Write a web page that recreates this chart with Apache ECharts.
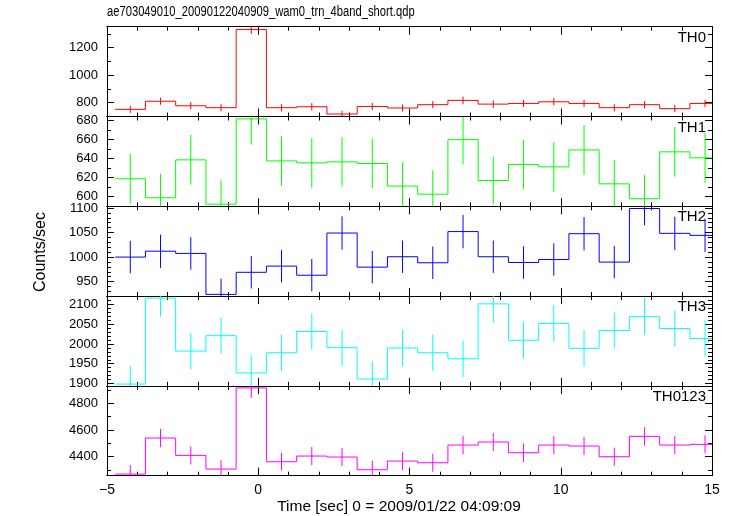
<!DOCTYPE html>
<html>
<head>
<meta charset="utf-8">
<script src="https://cdn.jsdelivr.net/npm/echarts@6/dist/echarts.min.js"></script>
<style>
html,body{margin:0;padding:0;background:#fff;}
#chart{width:733px;height:516px;}
</style>
</head>
<body>
<div id="chart"></div>
<script>
// ---- data ----
const titleText = 'ae703049010_20090122040909_wam0_trn_4band_short.qdp';
const xLabel = 'Time [sec] 0 = 2009/01/22 04:09:09';
const yLabel = 'Counts/sec';
const panelNames = ['TH0', 'TH1', 'TH2', 'TH3', 'TH0123'];
const panelColors = ['#ff0000', '#00ff00', '#0000ff', '#00ffff', '#ff00ff'];
const binHalfWidth = 0.5;
const times = [-4.23, -3.23, -2.23, -1.23, -0.23, 0.77, 1.77, 2.77, 3.77, 4.77,
               5.77, 6.77, 7.77, 8.77, 9.77, 10.77, 11.77, 12.77, 13.77, 14.77];
const th0 = [752, 811, 778, 764, 1333, 764, 771, 718, 773, 762, 786, 817, 790, 795, 807, 795, 764, 786, 757, 795];
const th0Err = [26, 26, 26, 26, 33, 26, 26, 25, 26, 26, 26, 27, 26, 26, 26, 26, 26, 26, 26, 26];
const th1 = [618.8, 598.9, 638.6, 592.2, 681.5, 637.5, 635.5, 636.5, 634.8, 611.2, 602.7, 659.8, 617, 633.7, 631.3, 649, 613.5, 597.9, 647, 640.7];
const th1Err = [26, 25, 26, 25, 27, 26, 26, 26, 26, 25, 25, 26, 25, 26, 26, 26, 25, 25, 26, 26];
const th2 = [1000, 1012, 1007.5, 924, 969, 981.6, 963, 1049, 979.5, 1000.7, 988.4, 1052, 1000.7, 989, 995, 1047.7, 989.8, 1099, 1048.4, 1044.3];
const th2Err = [33, 34, 33, 32, 33, 33, 33, 34, 33, 33, 33, 34, 33, 33, 33, 34, 33, 34, 34, 34];
const th3 = [1898.6, 2115.9, 1982, 2021, 1926.7, 1977.8, 2031.5, 1990.6, 1911.4, 1989.8, 1977.8, 1962.5, 2101.4, 2009.4, 2052, 1989, 2034, 2069, 2039, 2013.6];
const th3Err = [45, 47, 46, 46, 45, 46, 46, 46, 45, 46, 46, 46, 47, 46, 46, 46, 46, 47, 46, 46];
const th0123 = [4270, 4540, 4410, 4307.5, 4915, 4362.5, 4405, 4397.5, 4302.5, 4367.5, 4355, 4487.5, 4510, 4430, 4487.5, 4480, 4400, 4552.5, 4487.5, 4492.5];
const th0123Err = [67, 69, 68, 67, 75, 67, 68, 68, 67, 67, 67, 68, 68, 68, 68, 68, 68, 69, 68, 68];
const seriesValues = [th0, th1, th2, th3, th0123];
const seriesErrors = [th0Err, th1Err, th2Err, th3Err, th0123Err];
// axis ranges and ticks
const xMin = -5, xMax = 15;
const xMajorTicks = [-5, 0, 5, 10, 15];
const xMinorTicks = [-5,-4,-3,-2,-1,0,1,2,3,4,5,6,7,8,9,10,11,12,13,14,15];
const yRanges = [[700, 1353], [590, 684], [920.5, 1103.5], [1894, 2121], [4258, 4930]];
const yMajorTicks = [[800, 1000, 1200], [600, 620, 640, 660, 680], [950, 1000, 1050, 1100], [1900, 1950, 2000, 2050, 2100], [4400, 4600, 4800]];
const yMinorTicks = [
  [700, 800, 900, 1000, 1100, 1200, 1300],
  [590, 600, 610, 620, 630, 640, 650, 660, 670, 680],
  [930, 940, 950, 960, 970, 980, 990, 1000, 1010, 1020, 1030, 1040, 1050, 1060, 1070, 1080, 1090, 1100],
  [1900, 1910, 1920, 1930, 1940, 1950, 1960, 1970, 1980, 1990, 2000, 2010, 2020, 2030, 2040, 2050, 2060, 2070, 2080, 2090, 2100, 2110, 2120],
  [4300, 4400, 4500, 4600, 4700, 4800, 4900]
];

// ---- layout ----
const FONT = '"Liberation Sans", Helvetica, Arial, sans-serif';
const plotLeft = 107, plotRight = 712;
const panelTop = 26.7, panelH = 89.8;

const chart = echarts.init(document.getElementById('chart'), null, {renderer: 'canvas'});

const grids = [], xAxes = [], yAxes = [], series = [], graphics = [];
function fmtNum(v) { return v < 0 ? '\u2212' + Math.abs(v) : String(v); }

for (let i = 0; i < 5; i++) {
  grids.push({left: plotLeft, width: plotRight - plotLeft, top: panelTop + i * panelH, height: panelH});
  const isBottom = i === 4;
  const xa = (pos, vals, len, lab) => ({
    gridIndex: i, type: 'value', min: xMin, max: xMax, position: pos,
    axisLine: {show: true, onZero: false, lineStyle: {color: '#000', width: 1}},
    axisTick: {show: true, inside: true, length: len, customValues: vals, lineStyle: {color: '#000', width: 1}},
    axisLabel: {show: lab, customValues: vals, formatter: fmtNum, color: '#000', fontFamily: FONT, fontSize: 14, margin: 7},
    splitLine: {show: false}
  });
  const xStart = xAxes.length;
  xAxes.push(xa('bottom', xMajorTicks, 8, isBottom));
  xAxes.push(xa('bottom', xMinorTicks, 4, false));
  xAxes.push(xa('top', xMajorTicks, 8, false));
  xAxes.push(xa('top', xMinorTicks, 4, false));
  const [ymin, ymax] = yRanges[i];
  const ya = (pos, vals, len, lab) => ({
    gridIndex: i, type: 'value', min: ymin, max: ymax, position: pos,
    axisLine: {show: true, onZero: false, lineStyle: {color: '#000', width: 1}},
    axisTick: {show: true, inside: true, length: len, customValues: vals, lineStyle: {color: '#000', width: 1}},
    axisLabel: {show: lab, customValues: vals, formatter: fmtNum, color: '#000', fontFamily: FONT, fontSize: 13, margin: 9},
    splitLine: {show: false}
  });
  const yStart = yAxes.length;
  yAxes.push(ya('left', yMajorTicks[i], 7, true));
  yAxes.push(ya('left', yMinorTicks[i], 4, false));
  yAxes.push(ya('right', yMajorTicks[i], 7, false));
  yAxes.push(ya('right', yMinorTicks[i], 4, false));

  const vals = seriesValues[i], errs = seriesErrors[i];
  const data = times.map((t, k) => [t, vals[k], errs[k], k > 0 ? vals[k - 1] : NaN]);
  const color = panelColors[i];
  series.push({
    type: 'custom', xAxisIndex: xStart, yAxisIndex: yStart, clip: true, silent: true,
    data: data,
    renderItem: function (params, api) {
      const t = api.value(0), v = api.value(1), e = api.value(2), p = api.value(3);
      const L = api.coord([t - binHalfWidth, v]);
      const R = api.coord([t + binHalfWidth, v]);
      const T = api.coord([t, v + e]);
      const B = api.coord([t, v - e]);
      const style = {stroke: color, lineWidth: 1, fill: null};
      const children = [
        {type: 'line', shape: {x1: L[0], y1: L[1], x2: R[0], y2: R[1]}, style: style},
        {type: 'line', shape: {x1: T[0], y1: T[1], x2: B[0], y2: B[1]}, style: style}
      ];
      if (!isNaN(p)) {
        const P = api.coord([t - binHalfWidth, p]);
        children.push({type: 'line', shape: {x1: P[0], y1: P[1], x2: L[0], y2: L[1]}, style: style});
      }
      return {type: 'group', children: children};
    }
  });

  graphics.push({
    type: 'text', x: 706, y: panelTop + i * panelH + 11,
    style: {text: panelNames[i], font: '15px ' + FONT, fill: '#000', textAlign: 'right', textVerticalAlign: 'middle'}
  });
}

graphics.push({type: 'text', x: 107, y: 12, scaleX: 0.8,
  style: {text: titleText, font: '14px ' + FONT, fill: '#000', textAlign: 'left', textVerticalAlign: 'middle'}});
graphics.push({type: 'text', x: 399, y: 507,
  style: {text: xLabel, font: '15.5px ' + FONT, fill: '#000', textAlign: 'center', textVerticalAlign: 'middle'}});
graphics.push({
  type: 'text', x: 41, y: 252, rotation: Math.PI / 2,
  style: {text: yLabel, font: '16px ' + FONT, fill: '#000', textAlign: 'center', textVerticalAlign: 'middle'}
});

chart.setOption({
  animation: false,
  backgroundColor: '#fff',
  grid: grids,
  xAxis: xAxes,
  yAxis: yAxes,
  series: series,
  graphic: graphics
});
</script>
</body>
</html>
